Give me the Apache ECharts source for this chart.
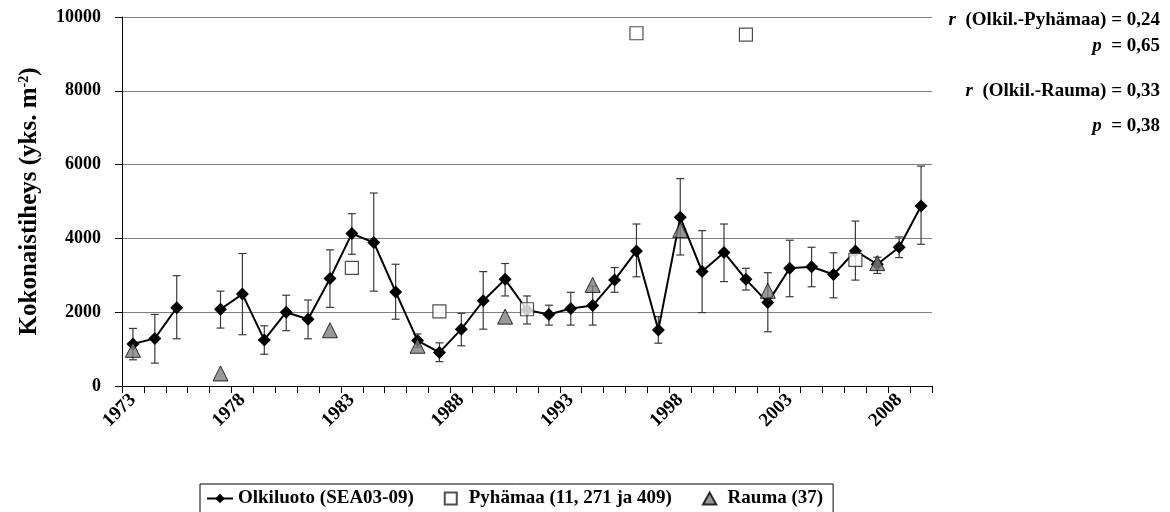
<!DOCTYPE html>
<html>
<head>
<meta charset="utf-8">
<script src="https://cdn.jsdelivr.net/npm/echarts@6/dist/echarts.min.js"></script>
<style>
  html, body { margin: 0; padding: 0; background: #fff; }
  #chart { width: 1170px; height: 512px; }
</style>
</head>
<body>
<div id="chart"></div>
<script>
const years = ['1973','1974','1975','1976','1977','1978','1979','1980','1981','1982',
  '1983','1984','1985','1986','1987','1988','1989','1990','1991','1992',
  '1993','1994','1995','1996','1997','1998','1999','2000','2001','2002',
  '2003','2004','2005','2006','2007','2008','2009']

// Olkiluoto (SEA03-09) means, with lower / upper ends of the error bars
const olkiluoto = [1140, 1290, 2120, null, 2080, 2490, 1250, 2000, 1810, 2910,
  4130, 3890, 2550, 1230, 910, 1540, 2310, 2890, 2060, 1940,
  2100, 2180, 2870, 3660, 1520, 4570, 3100, 3620, 2890, 2260,
  3190, 3230, 3020, 3660, 3300, 3760, 4880]
const errLow = [710, 620, 1280, null, 1570, 1390, 860, 1500, 1280, 2130,
  3570, 2570, 1810, 1050, 660, 1090, 1540, 2440, 1680, 1650,
  1650, 1650, 2540, 2960, 1160, 3550, 1990, 2830, 2600, 1470,
  2420, 2690, 2390, 2870, 3050, 3480, 3840]
const errHigh = [1560, 1940, 2990, null, 2570, 3590, 1630, 2460, 2330, 3690,
  4670, 5230, 3300, 1410, 1170, 1970, 3100, 3320, 2440, 2190,
  2540, 2710, 3210, 4390, 1880, 5620, 4210, 4390, 3190, 3070,
  3950, 3760, 3610, 4470, 3490, 4040, 5960]

const pyhamaaYears = ['1983', '1987', '1991', '1996', '2001', '2006']
const pyhamaa = [3200, 2020, 2080, 9560, 9520, 3420]

const raumaYears = ['1973', '1977', '1982', '1986', '1990', '1994', '1998', '2002', '2007']
const rauma = [980, 340, 1510, 1090, 1880, 2740, 4230, 2580, 3330]

const yTicks = [0, 2000, 4000, 6000, 8000, 10000]

// correlation notes on the right
const notes = [
  ['r', '  (Olkil.-Pyhämaa) = 0,24'],
  ['p', '  = 0,65'],
  ['r', '  (Olkil.-Rauma) = 0,33'],
  ['p', '  = 0,38']
]
const noteTops = [11, 37, 82, 117]

const serif = '"Liberation Serif", "Times New Roman", serif'

const chart = echarts.init(document.getElementById('chart'))

const errData = years.map((y, i) => errLow[i] == null ? null : [i, errLow[i], errHigh[i]]).filter(d => d)

const option = {
  animation: false,
  textStyle: { fontFamily: serif, fontWeight: 'bold', color: '#000' },
  grid: { left: 122, right: 238, top: 17, bottom: 126 },
  xAxis: {
    type: 'category',
    data: years,
    boundaryGap: true,
    axisLine: { lineStyle: { color: '#000', width: 1 } },
    axisTick: { show: true, interval: 0, length: 7, lineStyle: { color: '#000' } },
    axisLabel: {
      interval: 4, rotate: 45, margin: 11,
      fontFamily: serif, fontWeight: 'bold', fontSize: 19, color: '#000'
    },
    splitLine: { show: false }
  },
  yAxis: {
    type: 'value',
    min: yTicks[0], max: yTicks[yTicks.length - 1], interval: 2000,
    name: 'Kokonaistiheys (yks. m{sup|-2})',
    nameLocation: 'middle',
    nameGap: 80,
    nameTextStyle: {
      fontFamily: serif, fontWeight: 'bold', fontSize: 25, color: '#000',
      rich: {
        sup: { fontFamily: serif, fontWeight: 'bold', fontSize: 14, color: '#000', verticalAlign: 'top', lineHeight: 25 }
      }
    },
    axisLine: { show: true, lineStyle: { color: '#000', width: 1 } },
    axisTick: { show: true, length: 7, lineStyle: { color: '#000' } },
    axisLabel: {
      margin: 21, fontFamily: serif, fontWeight: 'bold', fontSize: 18, color: '#000',
      formatter: v => String(v)
    },
    splitLine: { show: true, lineStyle: { color: '#7f7f7f', width: 1 } }
  },
  legend: {
    left: 200, top: 484,
    itemGap: 30, itemWidth: 26, itemHeight: 12,
    padding: [5, 10, 8, 6],
    borderColor: '#000', borderWidth: 1,
    textStyle: { fontFamily: serif, fontWeight: 'bold', fontSize: 19, color: '#000' },
    data: [
      { name: 'Olkiluoto (SEA03-09)' },
      { name: 'Pyhämaa (11, 271 ja 409)', icon: 'path://M0 0H10V10H0Z' },
      { name: 'Rauma (37)', icon: 'path://M5 0L10 9H0Z' }
    ]
  },
  graphic: notes.map((n, i) => ({
    type: 'text', right: 10, top: noteTops[i],
    style: {
      text: '{i|' + n[0] + '}' + n[1],
      font: 'bold 19px ' + serif, fill: '#000',
      rich: { i: { fontStyle: 'italic', fontWeight: 'bold', fontSize: 19, fontFamily: serif } }
    }
  })),
  series: [
    {
      name: 'errors',
      type: 'custom',
      z: 1,
      silent: true,
      data: errData,
      renderItem: (params, api) => {
        const x = api.value(0)
        const lo = api.coord([x, api.value(1)])
        const hi = api.coord([x, api.value(2)])
        const cap = 4
        const st = { stroke: '#3a3a3a', lineWidth: 1.2 }
        return {
          type: 'group',
          children: [
            { type: 'line', shape: { x1: lo[0], y1: lo[1], x2: hi[0], y2: hi[1] }, style: st },
            { type: 'line', shape: { x1: lo[0] - cap, y1: lo[1], x2: lo[0] + cap, y2: lo[1] }, style: st },
            { type: 'line', shape: { x1: hi[0] - cap, y1: hi[1], x2: hi[0] + cap, y2: hi[1] }, style: st }
          ]
        }
      }
    },
    {
      name: 'Olkiluoto (SEA03-09)',
      type: 'line',
      z: 3,
      data: olkiluoto,
      connectNulls: false,
      symbol: 'diamond',
      symbolSize: 13,
      itemStyle: { color: '#000' },
      lineStyle: { color: '#000', width: 2 }
    },
    {
      name: 'Pyhämaa (11, 271 ja 409)',
      type: 'scatter',
      z: 4,
      data: pyhamaaYears.map((y, i) => [y, pyhamaa[i]]),
      symbol: 'rect',
      symbolSize: 13,
      itemStyle: { color: '#fff', borderColor: '#222', borderWidth: 1.2 }
    },
    {
      name: 'Rauma (37)',
      type: 'scatter',
      z: 5,
      data: raumaYears.map((y, i) => [y, rauma[i]]),
      symbol: 'triangle',
      symbolSize: 15,
      itemStyle: { color: '#808080', borderColor: '#000', borderWidth: 1 }
    }
  ]
}

chart.setOption(option)
</script>
</body>
</html>
